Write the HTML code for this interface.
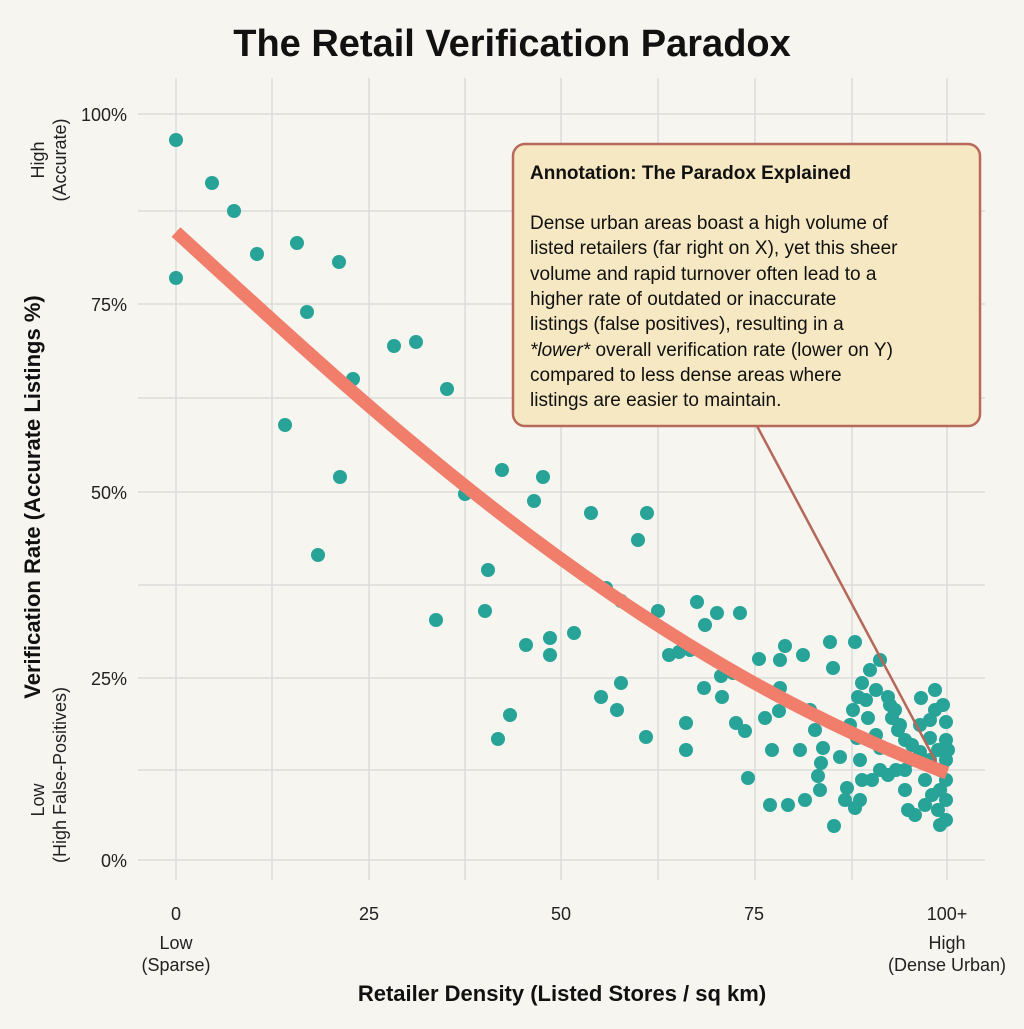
<!DOCTYPE html>
<html><head><meta charset="utf-8"><style>
html,body{margin:0;padding:0;background:#f6f5f0;}
svg text{font-family:"Liberation Sans",sans-serif;}
</style></head><body>
<svg width="1024" height="1024" xmlns="http://www.w3.org/2000/svg">
<rect width="1024" height="1024" fill="#f6f5f0"/>
<g stroke="#dcdcda" stroke-width="1.5">
<line x1="138" y1="114" x2="985" y2="114"/><line x1="138" y1="211" x2="985" y2="211"/>
<line x1="138" y1="304" x2="985" y2="304"/><line x1="138" y1="398" x2="985" y2="398"/>
<line x1="138" y1="492" x2="985" y2="492"/><line x1="138" y1="585" x2="985" y2="585"/>
<line x1="138" y1="678" x2="985" y2="678"/><line x1="138" y1="770" x2="985" y2="770"/>
<line x1="138" y1="860" x2="985" y2="860"/>
<line x1="176" y1="78" x2="176" y2="880"/><line x1="272" y1="78" x2="272" y2="880"/>
<line x1="369" y1="78" x2="369" y2="880"/><line x1="465" y1="78" x2="465" y2="880"/>
<line x1="561" y1="78" x2="561" y2="880"/><line x1="658" y1="78" x2="658" y2="880"/>
<line x1="755" y1="78" x2="755" y2="880"/><line x1="852" y1="78" x2="852" y2="880"/>
<line x1="947" y1="78" x2="947" y2="880"/>
</g>
<text x="512" y="56" text-anchor="middle" font-size="38" font-weight="bold" fill="#111">The Retail Verification Paradox</text>
<g font-size="18" fill="#222" text-anchor="end">
<text x="127" y="121">100%</text><text x="127" y="311">75%</text><text x="127" y="499">50%</text><text x="127" y="685">25%</text><text x="127" y="867">0%</text>
</g>
<g font-size="18" fill="#222" text-anchor="middle">
<text x="176" y="920">0</text><text x="369" y="920">25</text><text x="561" y="920">50</text><text x="754" y="920">75</text><text x="947" y="920">100+</text>
<text x="176" y="949">Low</text><text x="176" y="971">(Sparse)</text>
<text x="947" y="949">High</text><text x="947" y="971">(Dense Urban)</text>
<text x="562" y="1001" font-size="22" font-weight="bold" fill="#111">Retailer Density (Listed Stores / sq km)</text>
</g>
<g font-size="18" fill="#222" text-anchor="middle">
<text transform="translate(44,160) rotate(-90)">High</text>
<text transform="translate(66,160) rotate(-90)">(Accurate)</text>
<text transform="translate(44,800) rotate(-90)">Low</text>
<text transform="translate(66,775) rotate(-90)">(High False-Positives)</text>
<text transform="translate(40,497) rotate(-90)" font-size="22" font-weight="bold" fill="#111">Verification Rate (Accurate Listings %)</text>
</g>
<g fill="#27a397">
<circle cx="176" cy="140" r="7"/><circle cx="176" cy="278" r="7"/><circle cx="212" cy="183" r="7"/><circle cx="234" cy="211" r="7"/><circle cx="257" cy="254" r="7"/><circle cx="297" cy="243" r="7"/><circle cx="307" cy="312" r="7"/><circle cx="339" cy="262" r="7"/><circle cx="353" cy="379" r="7"/><circle cx="285" cy="425" r="7"/><circle cx="340" cy="477" r="7"/><circle cx="318" cy="555" r="7"/><circle cx="394" cy="346" r="7"/><circle cx="416" cy="342" r="7"/><circle cx="447" cy="389" r="7"/><circle cx="436" cy="620" r="7"/><circle cx="465" cy="494" r="7"/><circle cx="502" cy="470" r="7"/><circle cx="543" cy="477" r="7"/><circle cx="534" cy="501" r="7"/><circle cx="488" cy="570" r="7"/><circle cx="485" cy="611" r="7"/><circle cx="498" cy="739" r="7"/><circle cx="510" cy="715" r="7"/><circle cx="526" cy="645" r="7"/><circle cx="550" cy="638" r="7"/><circle cx="550" cy="655" r="7"/><circle cx="574" cy="633" r="7"/><circle cx="591" cy="513" r="7"/><circle cx="647" cy="513" r="7"/><circle cx="638" cy="540" r="7"/><circle cx="606" cy="588" r="7"/><circle cx="621" cy="601" r="7"/><circle cx="601" cy="697" r="7"/><circle cx="617" cy="710" r="7"/><circle cx="621" cy="683" r="7"/><circle cx="646" cy="737" r="7"/><circle cx="658" cy="611" r="7"/><circle cx="669" cy="655" r="7"/><circle cx="679" cy="652" r="7"/><circle cx="690" cy="650" r="7"/><circle cx="697" cy="602" r="7"/><circle cx="705" cy="625" r="7"/><circle cx="717" cy="613" r="7"/><circle cx="740" cy="613" r="7"/><circle cx="686" cy="750" r="7"/><circle cx="686" cy="723" r="7"/><circle cx="704" cy="688" r="7"/><circle cx="721" cy="676" r="7"/><circle cx="733" cy="673" r="7"/><circle cx="736" cy="723" r="7"/><circle cx="745" cy="731" r="7"/><circle cx="748" cy="778" r="7"/><circle cx="759" cy="659" r="7"/><circle cx="765" cy="718" r="7"/><circle cx="772" cy="750" r="7"/><circle cx="780" cy="688" r="7"/><circle cx="779" cy="711" r="7"/><circle cx="785" cy="646" r="7"/><circle cx="803" cy="655" r="7"/><circle cx="810" cy="710" r="7"/><circle cx="815" cy="730" r="7"/><circle cx="830" cy="642" r="7"/><circle cx="833" cy="668" r="7"/><circle cx="818" cy="776" r="7"/><circle cx="821" cy="763" r="7"/><circle cx="800" cy="750" r="7"/><circle cx="788" cy="805" r="7"/><circle cx="805" cy="800" r="7"/><circle cx="823" cy="748" r="7"/><circle cx="834" cy="826" r="7"/><circle cx="845" cy="800" r="7"/><circle cx="847" cy="788" r="7"/><circle cx="840" cy="757" r="7"/><circle cx="850" cy="725" r="7"/><circle cx="853" cy="710" r="7"/><circle cx="857" cy="738" r="7"/><circle cx="860" cy="760" r="7"/><circle cx="866" cy="700" r="7"/><circle cx="868" cy="718" r="7"/><circle cx="858" cy="697" r="7"/><circle cx="876" cy="735" r="7"/><circle cx="880" cy="748" r="7"/><circle cx="890" cy="705" r="7"/><circle cx="892" cy="718" r="7"/><circle cx="900" cy="725" r="7"/><circle cx="905" cy="740" r="7"/><circle cx="910" cy="760" r="7"/><circle cx="920" cy="752" r="7"/><circle cx="880" cy="660" r="7"/><circle cx="855" cy="642" r="7"/><circle cx="870" cy="670" r="7"/><circle cx="862" cy="683" r="7"/><circle cx="876" cy="690" r="7"/><circle cx="888" cy="697" r="7"/><circle cx="895" cy="710" r="7"/><circle cx="898" cy="730" r="7"/><circle cx="905" cy="770" r="7"/><circle cx="912" cy="745" r="7"/><circle cx="921" cy="698" r="7"/><circle cx="935" cy="710" r="7"/><circle cx="946" cy="722" r="7"/><circle cx="946" cy="740" r="7"/><circle cx="946" cy="760" r="7"/><circle cx="946" cy="780" r="7"/><circle cx="946" cy="800" r="7"/><circle cx="946" cy="820" r="7"/><circle cx="940" cy="825" r="7"/><circle cx="932" cy="795" r="7"/><circle cx="925" cy="805" r="7"/><circle cx="915" cy="815" r="7"/><circle cx="905" cy="790" r="7"/><circle cx="888" cy="775" r="7"/><circle cx="872" cy="780" r="7"/><circle cx="860" cy="800" r="7"/><circle cx="855" cy="808" r="7"/><circle cx="908" cy="810" r="7"/><circle cx="930" cy="760" r="7"/><circle cx="938" cy="750" r="7"/><circle cx="930" cy="738" r="7"/><circle cx="920" cy="725" r="7"/><circle cx="896" cy="770" r="7"/><circle cx="862" cy="780" r="7"/><circle cx="880" cy="770" r="7"/><circle cx="930" cy="720" r="7"/><circle cx="940" cy="770" r="7"/><circle cx="940" cy="790" r="7"/><circle cx="948" cy="750" r="7"/><circle cx="935" cy="690" r="7"/><circle cx="943" cy="705" r="7"/><circle cx="925" cy="780" r="7"/><circle cx="938" cy="810" r="7"/><circle cx="820" cy="790" r="7"/><circle cx="770" cy="805" r="7"/><circle cx="722" cy="697" r="7"/><circle cx="780" cy="660" r="7"/>
</g>
<path d="M176 232 C 360 400, 620 650, 947 773" fill="none" stroke="#f07e6a" stroke-width="13" stroke-linecap="butt"/>
<line x1="757" y1="426" x2="936" y2="762" stroke="#b5675a" stroke-width="2.5"/>
<rect x="513" y="144" width="467" height="282" rx="12" fill="#f5e8c2" stroke="#b8695a" stroke-width="2.5"/>
<g font-size="19" fill="#111">
<text x="530" y="179" font-weight="bold">Annotation: The Paradox Explained</text>
<text x="530" y="229">Dense urban areas boast a high volume of</text>
<text x="530" y="254">listed retailers (far right on X), yet this sheer</text>
<text x="530" y="280">volume and rapid turnover often lead to a</text>
<text x="530" y="305">higher rate of outdated or inaccurate</text>
<text x="530" y="330">listings (false positives), resulting in a</text>
<text x="530" y="356"><tspan font-style="italic">*lower*</tspan> overall verification rate (lower on Y)</text>
<text x="530" y="381">compared to less dense areas where</text>
<text x="530" y="406">listings are easier to maintain.</text>
</g>
</svg>
</body></html>
